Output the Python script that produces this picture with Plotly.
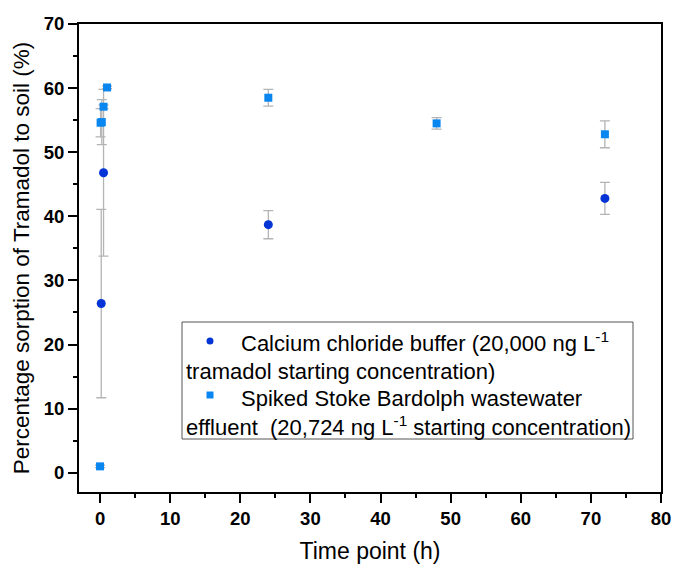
import plotly.graph_objects as go

# ---- data ----
cacl_time = [0.17, 0.5, 24, 72]
cacl_sorption = [26.4, 46.8, 38.7, 42.8]
cacl_err = [14.7, 13.0, 2.2, 2.5]

ww_time = [0, 0.08, 0.25, 0.5, 1, 24, 48, 72]
ww_sorption = [1.0, 54.6, 54.7, 57.1, 60.1, 58.5, 54.5, 52.8]
ww_err = [0.2, 2.2, 3.5, 0.3, 0.2, 1.3, 0.9, 2.1]

x_ticks = [0, 10, 20, 30, 40, 50, 60, 70, 80]
y_ticks = [0, 10, 20, 30, 40, 50, 60, 70]

FONT = "Liberation Sans, Arial, sans-serif"
C_CIRC = "#0434d6"
C_SQ = "#0a86f0"
ERR_C = "#b4b4b4"

fig = go.Figure()
fig.add_trace(go.Scatter(
    x=cacl_time, y=cacl_sorption, mode="markers",
    name="Calcium chloride buffer (20,000 ng L<sup>-1</sup> tramadol starting concentration)",
    marker=dict(symbol="circle", size=9, color=C_CIRC),
    error_y=dict(type="data", array=cacl_err, visible=True, color=ERR_C, thickness=1.3, width=5),
    showlegend=False,
))
fig.add_trace(go.Scatter(
    x=ww_time, y=ww_sorption, mode="markers",
    name="Spiked Stoke Bardolph wastewater effluent (20,724 ng L<sup>-1</sup> starting concentration)",
    marker=dict(symbol="square", size=8, color=C_SQ),
    error_y=dict(type="data", array=ww_err, visible=True, color=ERR_C, thickness=1.3, width=5),
    showlegend=False,
))

# ---- manual legend (text wraps to the box edge as in the reference) ----
L, R, T, B = 79, 661, 24, 492
def px(x):
    return (x - L) / (R - L)
def py(y):
    return (B - y) / (B - T)

fig.add_shape(type="rect", xref="paper", yref="paper",
              x0=px(182), x1=px(633), y0=py(439), y1=py(322),
              line=dict(color="#555555", width=1), fillcolor="white", layer="above")
# legend keys
fig.add_shape(type="circle", xref="paper", yref="paper",
              x0=px(206.5), x1=px(213.5), y0=py(344.5), y1=py(337.5),
              line=dict(width=0), fillcolor=C_CIRC, layer="above")
fig.add_shape(type="rect", xref="paper", yref="paper",
              x0=px(206.5), x1=px(213.5), y0=py(398.5), y1=py(391.5),
              line=dict(width=0), fillcolor=C_SQ, layer="above")

leg_font = dict(family=FONT, size=22, color="black")
lines = [
    (240, 342, "Calcium chloride buffer (20,000 ng L<sup>-1</sup>"),
    (185, 371, "tramadol starting concentration)"),
    (240, 398, "Spiked Stoke Bardolph wastewater"),
    (185, 426, "effluent  (20,724 ng L<sup>-1</sup> starting concentration)"),
]
for x0, y0, t in lines:
    fig.add_annotation(xref="paper", yref="paper", x=px(x0), y=py(y0),
                       xanchor="left", yanchor="middle", text=t,
                       showarrow=False, font=leg_font, borderpad=0)

axis_common = dict(
    showline=True, linecolor="black", linewidth=2, mirror=True,
    ticks="outside", ticklen=9, tickwidth=2, tickcolor="black",
    showgrid=False, zeroline=False, automargin=False,
    tickfont=dict(family=FONT, size=18.5, color="black", weight="bold"),
)

fig.update_xaxes(
    range=[-3, 80], tickvals=x_ticks, ticktext=[str(v) for v in x_ticks],
    minor=dict(ticks="outside", ticklen=4, tickwidth=2, tickcolor="black", dtick=5, tick0=0, showgrid=False),
    title=dict(text="Time point (h)", font=dict(family=FONT, size=23, color="black"), standoff=20),
    **axis_common,
)
fig.update_yaxes(
    range=[-3, 70], tickvals=y_ticks, ticktext=[str(v) for v in y_ticks],
    minor=dict(ticks="outside", ticklen=4, tickwidth=2, tickcolor="black", dtick=5, tick0=0, showgrid=False),
    title=dict(text="Percentage sorption of Tramadol to soil (%)", font=dict(family=FONT, size=22.5, color="black"), standoff=8),
    **axis_common,
)

fig.update_layout(
    width=673, height=564,
    margin=dict(l=L, r=673 - R, t=T, b=564 - B),
    paper_bgcolor="white", plot_bgcolor="white",
    font=dict(family=FONT, color="black"),
)

fig.write_html("out.html")
